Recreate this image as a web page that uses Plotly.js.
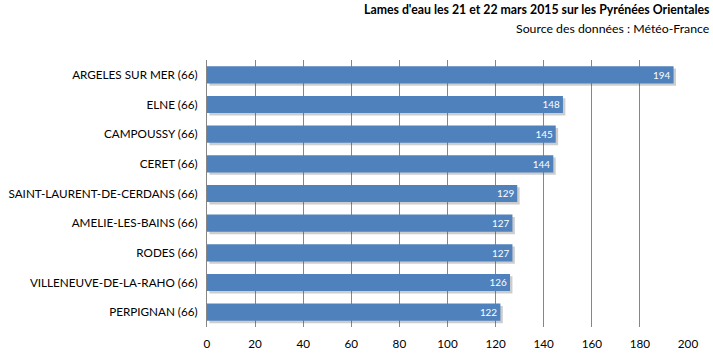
<!DOCTYPE html>
<html><head><meta charset="utf-8">
<script src="https://cdn.plot.ly/plotly-3.0.1.min.js"></script>
<style>body{margin:0;padding:0;background:#fff}#chart{width:713px;height:360px}</style>
</head><body><div id="chart"></div>
<script>
const stations = ["ARGELES SUR MER (66)","ELNE (66)","CAMPOUSSY (66)","CERET (66)","SAINT-LAURENT-DE-CERDANS (66)","AMELIE-LES-BAINS (66)","RODES (66)","VILLENEUVE-DE-LA-RAHO (66)","PERPIGNAN (66)"];
const rainfall = [194,148,145,144,129,127,127,126,122];
const xTicks = [0,20,40,60,80,100,120,140,160,180,200];
const titleLine1 = "Lames d'eau les 21 et 22 mars 2015 sur les Pyrénées Orientales";
const titleLine2 = "Source des données : Météo-France";

const font = "Lato, 'Open Sans', sans-serif";
const shadow = {
  type: "bar", orientation: "h", y: stations, x: rainfall, base: 1.0,
  width: 0.58, offset: -0.21,
  marker: {color: "rgba(90,90,90,0.3)", line: {width: 0}},
  hoverinfo: "skip", showlegend: false
};
const bars = {
  type: "bar", orientation: "h", y: stations, x: rainfall,
  width: 0.58, offset: -0.29,
  marker: {color: "#4F81BD", line: {width: 0}},
  text: rainfall.map(String), textposition: "inside", insidetextanchor: "end",
  textfont: {color: "#ffffff", size: 11.5, family: font},
  showlegend: false
};
const layout = {
  width: 713, height: 360,
  margin: {l: 207, r: 25, t: 60, b: 33},
  paper_bgcolor: "#fff", plot_bgcolor: "#fff",
  barmode: "overlay",
  font: {family: font, size: 11.7, color: "#000"},
  xaxis: {range: [0, 200], tickvals: xTicks, ticktext: xTicks.map(String),
    showgrid: true, gridcolor: "#868686", gridwidth: 1, zeroline: false,
    showline: false, ticks: "outside", ticklen: 6, tickcolor: "rgba(0,0,0,0)",
    tickfont: {size: 11.7, family: font, color: "#000"}, fixedrange: true},
  yaxis: {autorange: "reversed", showline: true, linecolor: "#868686", linewidth: 1,
    showgrid: false, ticks: "", ticklen: 0, ticksuffix: "  ",
    tickfont: {size: 11.7, family: font, color: "#000"}},
  annotations: [
    {xref: "paper", yref: "paper", x: 1.04, y: 1, xanchor: "right", yanchor: "bottom", yshift: 41, xshift: 5,
     text: "<b>" + titleLine1 + "</b>", showarrow: false, font: {size: 12.3, family: font, color: "#000"}},
    {xref: "paper", yref: "paper", x: 1.04, y: 1, xanchor: "right", yanchor: "bottom", yshift: 22, xshift: 5,
     text: titleLine2, showarrow: false, font: {size: 12.3, family: font, color: "#000"}}
  ]
};
Plotly.newPlot("chart", [shadow, bars], layout, {displayModeBar: false, staticPlot: true});
</script></body></html>
